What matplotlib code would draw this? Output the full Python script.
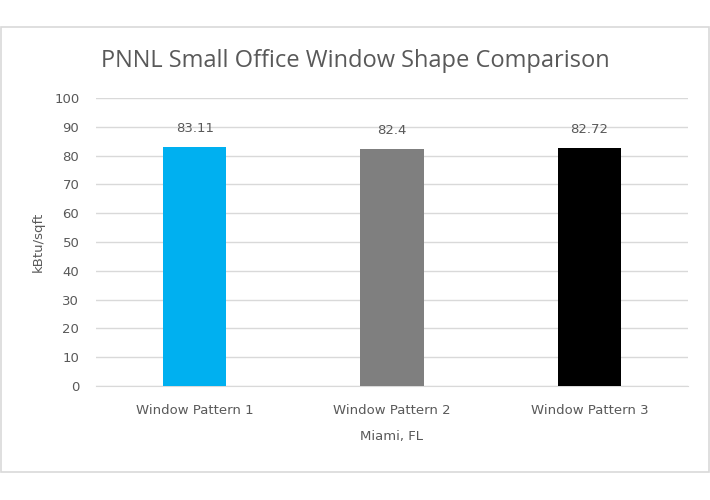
import matplotlib.pyplot as plt
from matplotlib.patches import Rectangle

categories = ['Window Pattern 1', 'Window Pattern 2', 'Window Pattern 3']
values = [83.11, 82.4, 82.72]
bar_colors = ['#00B0F0', '#7F7F7F', '#000000']
value_labels = ['83.11', '82.4', '82.72']
yticks = list(range(0, 101, 10))

plt.rcParams['font.family'] = ['DejaVu Sans']
txt = '#595959'
small = 9.5

fig = plt.figure(figsize=(7.1, 5.0), dpi=100)
fig.patches.append(Rectangle((1 / 710, 1 - 472 / 500), 708 / 710, 445 / 500,
                             transform=fig.transFigure, fill=False,
                             edgecolor='#D9D9D9', linewidth=1.2))

ax = fig.add_axes([96 / 710, 1 - 386 / 500, 592 / 710, 288 / 500])
x = range(len(categories))
ax.bar(x, values, width=0.32, color=bar_colors, zorder=3)
for xi, v, lab in zip(x, values, value_labels):
    ax.text(xi, v + 4, lab, ha='center', va='bottom', fontsize=small, color=txt)

ax.set_xlim(-0.5, 2.5)
ax.set_ylim(0, 100)
ax.set_yticks(yticks)
ax.set_xticks(list(x))
ax.set_xticklabels(categories)
ax.tick_params(axis='both', length=0, labelsize=small, labelcolor=txt)
ax.tick_params(axis='y', pad=12)
ax.tick_params(axis='x', pad=13)
ax.grid(axis='y', color='#D9D9D9', linewidth=1, zorder=0)
for s in ['top', 'right', 'left']:
    ax.spines[s].set_visible(False)
ax.spines['bottom'].set_color('#D9D9D9')

ax.set_ylabel('kBtu/sqft', fontsize=small, color=txt, labelpad=7)
ax.set_xlabel('Miami, FL', fontsize=small, color=txt, labelpad=9)
fig.text(355 / 710, 1 - 61 / 500, 'PNNL Small Office Window Shape Comparison',
         ha='center', va='center', fontsize=17, color=txt,
         family=['Open Sans', 'DejaVu Sans'])

fig.savefig('out.png', dpi=100)
